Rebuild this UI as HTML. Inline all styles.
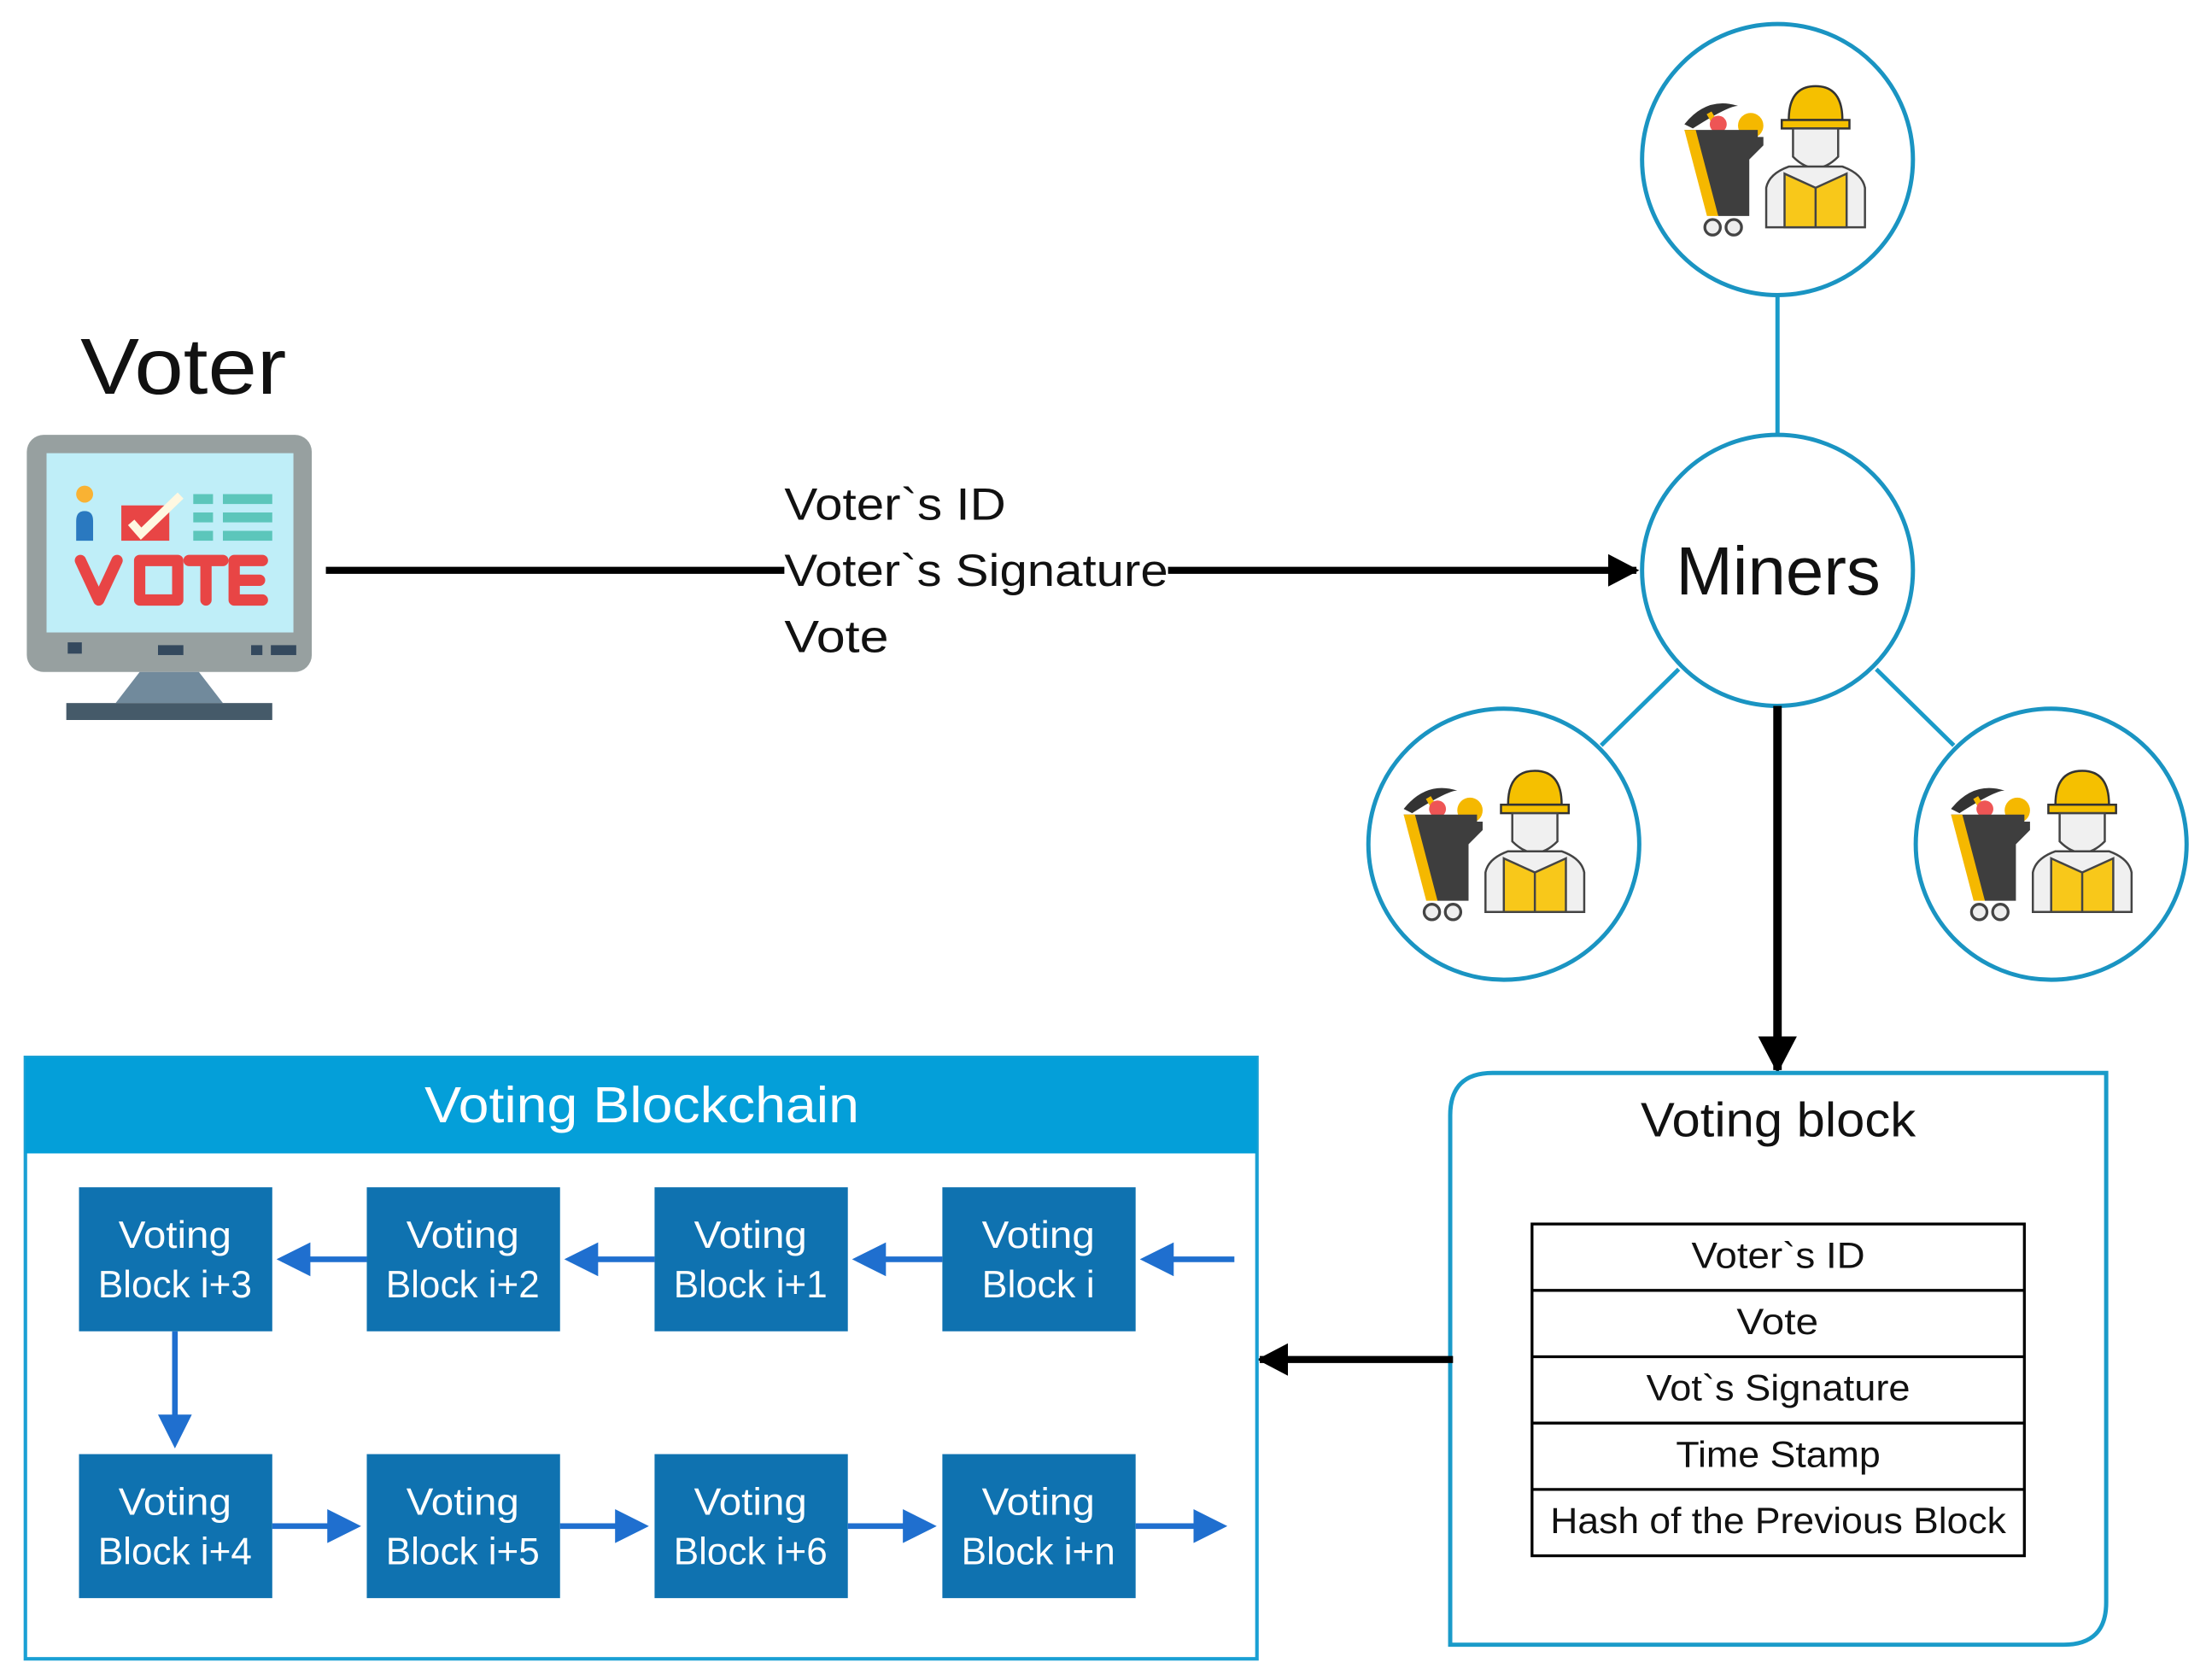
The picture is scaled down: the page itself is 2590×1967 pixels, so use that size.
<!DOCTYPE html>
<html><head><meta charset="utf-8"><style>
html,body{margin:0;padding:0;background:#fff}
svg{display:block}
text{font-family:"Liberation Sans","DejaVu Sans",sans-serif}
</style></head><body>
<svg width="2590" height="1967" viewBox="0 0 1568 1190" preserveAspectRatio="none" xmlns="http://www.w3.org/2000/svg">
<defs>
<marker id="ab" markerWidth="4.4" markerHeight="4.6" refX="4" refY="2.3" orient="auto" markerUnits="strokeWidth"><path d="M0,0 L4.4,2.3 L0,4.6 z" fill="#000"/></marker>
<marker id="abl" markerWidth="6" markerHeight="6" refX="5" refY="3" orient="auto" markerUnits="strokeWidth"><path d="M0,0 L6,3 L0,6 z" fill="#1f6fcf"/></marker>
<g id="miner">
  <path d="M-66,-25 Q-50,-45 -28,-38 Q-35,-38 -60,-22z" fill="#333"/>
  <rect x="-47" y="-34" width="4" height="14" fill="#f5b800" transform="rotate(-30 -45 -27)"/>
  <circle cx="-42" cy="-25" r="6" fill="#e55"/>
  <circle cx="-19" cy="-24" r="9" fill="#f5b800"/>
  <path d="M-66,-21 L-14,-21 L-14,-16 L-10,-16 L-10,-10 L-20,0 L-20,40 L-42,40 z" fill="#3e3e3e"/>
  <path d="M-66,-21 L-58,-21 L-42,40 L-50,40 z" fill="#f5b800"/>
  <circle cx="-46" cy="48" r="5.5" fill="#eee" stroke="#444" stroke-width="2"/>
  <circle cx="-31" cy="48" r="5.5" fill="#eee" stroke="#444" stroke-width="2"/>
  <path d="M8,-28 Q8,-52 27,-52 Q46,-52 46,-28z" fill="#f5c000" stroke="#333" stroke-width="1.5"/>
  <rect x="3" y="-28" width="48" height="6" fill="#f5c000" stroke="#333" stroke-width="1.5"/>
  <path d="M11,-22 L43,-22 L43,-2 Q27,14 11,-2z" fill="#f0f0f0" stroke="#444" stroke-width="1.5"/>
  <path d="M-8,48 L-8,20 Q-6,10 8,5 L46,5 Q60,10 62,20 L62,48z" fill="#f0f0f0" stroke="#444" stroke-width="1.5"/>
  <path d="M5,48 L5,10 L27,20 L49,10 L49,48z" fill="#f8c81a" stroke="#444" stroke-width="1.5"/>
  <line x1="27" y1="20" x2="27" y2="48" stroke="#444" stroke-width="1.5"/>
</g>
</defs>
<rect width="1568" height="1190" fill="#fff"/>

<!-- Voter -->
<text x="57" y="279" font-size="56" fill="#111" textLength="146" lengthAdjust="spacingAndGlyphs">Voter</text>
<rect x="19" y="308" width="202" height="168" rx="12" fill="#97a0a0"/>
<rect x="33" y="321" width="175" height="127" fill="#bfeef8"/>
<circle cx="60" cy="350" r="6" fill="#f9b233"/>
<path d="M54,383 L54,369 Q54,362 60,362 Q66,362 66,369 L66,383z" fill="#2a79c0"/>
<rect x="86" y="358" width="34" height="25" fill="#e84545"/>
<path d="M93,370 L100,378 L128,351" stroke="#fff8e1" stroke-width="6" fill="none"/>
<g fill="#5cc6bb"><rect x="137" y="350" width="14" height="7"/><rect x="158" y="350" width="35" height="7"/><rect x="137" y="363" width="14" height="7"/><rect x="158" y="363" width="35" height="7"/><rect x="137" y="376" width="14" height="7"/><rect x="158" y="376" width="35" height="7"/></g>
<g stroke="#e84545" stroke-width="8" fill="none" stroke-linecap="round" stroke-linejoin="round">
<path d="M57,397 L70,425 L83,397"/><rect x="99" y="397" width="27" height="28"/><path d="M134,397 L158,397 M146,397 L146,425"/><path d="M186,397 L166,397 L166,425 L186,425 M166,411 L184,411"/></g>
<rect x="48" y="455" width="10" height="8" fill="#34495e"/><rect x="112" y="457" width="18" height="7" fill="#34495e"/><rect x="178" y="457" width="8" height="7" fill="#34495e"/><rect x="192" y="457" width="18" height="7" fill="#34495e"/>
<path d="M99,476 L141,476 L158,498 L82,498z" fill="#718a9c"/>
<rect x="47" y="498" width="146" height="12" fill="#455a69"/>

<!-- Main arrow -->
<line x1="231" y1="404" x2="1160" y2="404" stroke="#000" stroke-width="5" marker-end="url(#ab)"/>
<rect x="556" y="384" width="272" height="38" fill="#fff"/>
<text x="556" y="368" font-size="32" fill="#111" textLength="157" lengthAdjust="spacingAndGlyphs">Voter`s ID</text>
<text x="556" y="415" font-size="32" fill="#111" textLength="272" lengthAdjust="spacingAndGlyphs">Voter`s Signature</text>
<text x="556" y="462" font-size="32" fill="#111" textLength="74" lengthAdjust="spacingAndGlyphs">Vote</text>

<!-- Miners -->
<g stroke="#1a9bc9" stroke-width="3">
<line x1="1260" y1="209" x2="1260" y2="308"/>
<line x1="1190" y1="474" x2="1135" y2="528"/>
<line x1="1330" y1="474" x2="1385" y2="528"/>
</g>
<g fill="#fff" stroke="#1a94c2" stroke-width="3">
<circle cx="1260" cy="113" r="96"/>
<circle cx="1260" cy="404" r="96"/>
<circle cx="1066" cy="598" r="96"/>
<circle cx="1454" cy="598" r="96"/>
</g>
<text x="1188" y="421" font-size="48" fill="#111" textLength="145" lengthAdjust="spacingAndGlyphs">Miners</text>
<use href="#miner" x="1260" y="113"/>
<use href="#miner" x="1061" y="598"/>
<use href="#miner" x="1449" y="598"/>

<line x1="1260" y1="500" x2="1260" y2="758" stroke="#000" stroke-width="6" marker-end="url(#ab)"/>

<!-- Voting block -->
<path d="M1058,760 L1493,760 L1493,1135 Q1493,1165 1463,1165 L1028,1165 L1028,790 Q1028,760 1058,760z" fill="#fff" stroke="#1a9bc9" stroke-width="3"/>
<text x="1163" y="805" font-size="34" fill="#111" textLength="195" lengthAdjust="spacingAndGlyphs">Voting block</text>
<rect x="1086" y="867" width="349" height="235" fill="#fff" stroke="#000" stroke-width="2"/>
<g stroke="#000" stroke-width="2">
<line x1="1086" y1="914" x2="1435" y2="914"/><line x1="1086" y1="961" x2="1435" y2="961"/><line x1="1086" y1="1008" x2="1435" y2="1008"/><line x1="1086" y1="1055" x2="1435" y2="1055"/>
</g>
<g font-size="26" fill="#111">
<text x="1199" y="898" textLength="123" lengthAdjust="spacingAndGlyphs">Voter`s ID</text>
<text x="1231" y="945" textLength="58" lengthAdjust="spacingAndGlyphs">Vote</text>
<text x="1167" y="992" textLength="187" lengthAdjust="spacingAndGlyphs">Vot`s Signature</text>
<text x="1188" y="1039" textLength="145" lengthAdjust="spacingAndGlyphs">Time Stamp</text>
<text x="1099" y="1086" textLength="323" lengthAdjust="spacingAndGlyphs">Hash of the Previous Block</text>
</g>
<line x1="1030" y1="963" x2="893" y2="963" stroke="#000" stroke-width="5" marker-end="url(#ab)"/>

<!-- Blockchain -->
<rect x="18" y="749" width="873" height="426" fill="#fff" stroke="#1aa0d4" stroke-width="2.5"/>
<rect x="18" y="749" width="873" height="68" fill="#049fd9"/>
<text x="301" y="795" font-size="36" fill="#fff" textLength="308" lengthAdjust="spacingAndGlyphs">Voting Blockchain</text>
<g fill="#0f72b0">
<rect x="56" y="841" width="137" height="102"/><rect x="260" y="841" width="137" height="102"/><rect x="464" y="841" width="137" height="102"/><rect x="668" y="841" width="137" height="102"/>
<rect x="56" y="1030" width="137" height="102"/><rect x="260" y="1030" width="137" height="102"/><rect x="464" y="1030" width="137" height="102"/><rect x="668" y="1030" width="137" height="102"/>
</g>
<g stroke="#1f6fcf" stroke-width="4" marker-end="url(#abl)">
<line x1="875" y1="892" x2="812" y2="892"/>
<line x1="668" y1="892" x2="608" y2="892"/>
<line x1="464" y1="892" x2="404" y2="892"/>
<line x1="260" y1="892" x2="200" y2="892"/>
<line x1="124" y1="943" x2="124" y2="1022"/>
<line x1="193" y1="1081" x2="252" y2="1081"/>
<line x1="397" y1="1081" x2="456" y2="1081"/>
<line x1="601" y1="1081" x2="660" y2="1081"/>
<line x1="805" y1="1081" x2="866" y2="1081"/>
</g>
<g font-size="27" text-anchor="middle" fill="#fff">
<text x="124" y="884" textLength="80" lengthAdjust="spacingAndGlyphs">Voting</text><text x="124" y="919" textLength="109" lengthAdjust="spacingAndGlyphs">Block i+3</text>
<text x="328" y="884" textLength="80" lengthAdjust="spacingAndGlyphs">Voting</text><text x="328" y="919" textLength="109" lengthAdjust="spacingAndGlyphs">Block i+2</text>
<text x="532" y="884" textLength="80" lengthAdjust="spacingAndGlyphs">Voting</text><text x="532" y="919" textLength="109" lengthAdjust="spacingAndGlyphs">Block i+1</text>
<text x="736" y="884" textLength="80" lengthAdjust="spacingAndGlyphs">Voting</text><text x="736" y="919" textLength="80" lengthAdjust="spacingAndGlyphs">Block i</text>
<text x="124" y="1073" textLength="80" lengthAdjust="spacingAndGlyphs">Voting</text><text x="124" y="1108" textLength="109" lengthAdjust="spacingAndGlyphs">Block i+4</text>
<text x="328" y="1073" textLength="80" lengthAdjust="spacingAndGlyphs">Voting</text><text x="328" y="1108" textLength="109" lengthAdjust="spacingAndGlyphs">Block i+5</text>
<text x="532" y="1073" textLength="80" lengthAdjust="spacingAndGlyphs">Voting</text><text x="532" y="1108" textLength="109" lengthAdjust="spacingAndGlyphs">Block i+6</text>
<text x="736" y="1073" textLength="80" lengthAdjust="spacingAndGlyphs">Voting</text><text x="736" y="1108" textLength="109" lengthAdjust="spacingAndGlyphs">Block i+n</text>
</g>
</svg>
</body></html>
